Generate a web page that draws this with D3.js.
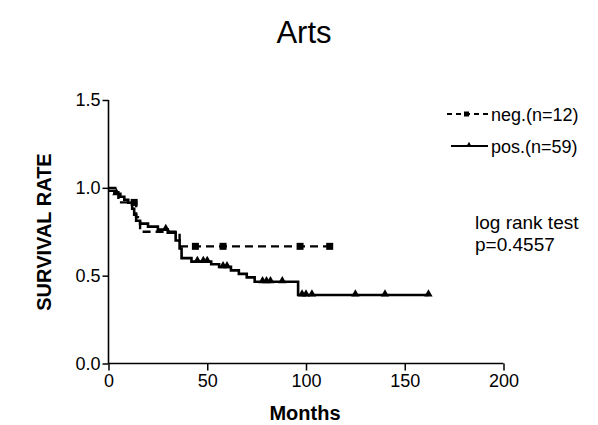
<!DOCTYPE html>
<html><head><meta charset="utf-8">
<script src="https://cdn.jsdelivr.net/npm/d3@7"></script>
<style>body{margin:0;background:#fff}svg{display:block}</style>
</head><body>
<script>
// Kaplan-Meier step points [month, survival]
const negSteps = [[0,1.0],[5,0.917],[14,0.833],[16,0.75],[36,0.667],[112,0.667]];
const negCensor = [[13,0.917],[44,0.667],[58,0.667],[97,0.667],[112,0.667]];
const posSteps = [[0,0.983],[3,0.966],[6,0.949],[8,0.932],[10,0.915],[12,0.881],[13,0.847],[14,0.813],[16,0.796],[20,0.779],[25,0.762],[30,0.745],[34,0.70],[36,0.655],[37,0.60],[42,0.58],[52,0.565],[56,0.55],[62,0.53],[66,0.51],[70,0.49],[74,0.465],[96,0.39],[162,0.39]];
const posCensor = [[4,0.966],[29,0.762],[45,0.58],[48,0.58],[50,0.58],[58,0.55],[60,0.55],[78,0.465],[80,0.465],[82,0.465],[88,0.465],[98,0.39],[100,0.39],[103,0.39],[125,0.39],[140,0.39],[162,0.39]];
const xTicks = [0,50,100,150,200];
const yTicks = [0.0,0.5,1.0,1.5];
const legendLabels = ["neg.(n=12)","pos.(n=59)"];

const W=598,H=425;
const svg=d3.select("body").append("svg").attr("width",W).attr("height",H);
const x=d3.scaleLinear().domain([0,200]).range([108.5,503.5]);
const y=d3.scaleLinear().domain([0,1.5]).range([363.5,100]);
const font="Liberation Sans, Arial, sans-serif";

svg.append("text").attr("x",304).attr("y",43).attr("text-anchor","middle")
  .attr("font-family",font).attr("font-size",31).text("Arts");

const xa=svg.append("g").attr("transform","translate(0,363.5)")
  .call(d3.axisBottom(x).tickValues(xTicks).tickFormat(d3.format("d")).tickSize(7).tickPadding(4));
const ya=svg.append("g").attr("transform","translate(108.5,0)")
  .call(d3.axisLeft(y).tickValues(yTicks).tickFormat(d3.format(".1f")).tickSize(6).tickPadding(2));
[xa,ya].forEach(a=>{
  a.select(".domain").attr("stroke","#000").attr("stroke-width",1.6);
  a.selectAll(".tick line").attr("stroke","#000").attr("stroke-width",1.5);
  a.selectAll("text").attr("font-family",font).attr("font-size",18).attr("fill","#000");
});
ya.select(".domain").attr("d","M0,363.5V100");
xa.select(".domain").attr("d","M108.5,0H503.5");

svg.append("text").attr("transform","translate(51,232) rotate(-90)").attr("text-anchor","middle")
  .attr("font-family",font).attr("font-weight","bold").attr("font-size",20).text("SURVIVAL RATE");
svg.append("text").attr("x",305).attr("y",420).attr("text-anchor","middle")
  .attr("font-family",font).attr("font-weight","bold").attr("font-size",20).text("Months");

const line=d3.line().x(d=>x(d[0])).y(d=>y(d[1])).curve(d3.curveStepAfter);
svg.append("path").datum(posSteps).attr("d",line).attr("fill","none").attr("stroke","#000").attr("stroke-width",2.6);
svg.append("path").datum(negSteps).attr("d",line).attr("fill","none").attr("stroke","#000").attr("stroke-width",2.4).attr("stroke-dasharray","8,5");

svg.selectAll(".sq").data(negCensor).join("rect")
  .attr("x",d=>x(d[0])-3.5).attr("y",d=>y(d[1])-3.5).attr("width",7).attr("height",7).attr("fill","#000");
const tri=d3.symbol().type(d3.symbolTriangle).size(30);
svg.selectAll(".tr").data(posCensor).join("path")
  .attr("d",tri).attr("transform",d=>`translate(${x(d[0])},${y(d[1])-1})`).attr("fill","#000");

// legend
const lg=svg.append("g");
lg.append("line").attr("x1",447).attr("x2",488).attr("y1",114).attr("y2",114).attr("stroke","#000").attr("stroke-width",2).attr("stroke-dasharray","5,4");
lg.append("rect").attr("x",464).attr("y",111.5).attr("width",5).attr("height",5).attr("fill","#000");
lg.append("line").attr("x1",451).attr("x2",488).attr("y1",146).attr("y2",146).attr("stroke","#000").attr("stroke-width",2);
lg.append("path").attr("d",d3.symbol().type(d3.symbolTriangle).size(14)).attr("transform","translate(469,145)").attr("fill","#000");
legendLabels.forEach((t,i)=>lg.append("text").attr("x",491).attr("y",121+i*32)
  .attr("font-family",font).attr("font-size",18).text(t));

svg.append("text").attr("x",475).attr("y",229).attr("font-family",font).attr("font-size",19).text("log rank test");
svg.append("text").attr("x",475).attr("y",251).attr("font-family",font).attr("font-size",19).text("p=0.4557");
</script>
</body></html>
